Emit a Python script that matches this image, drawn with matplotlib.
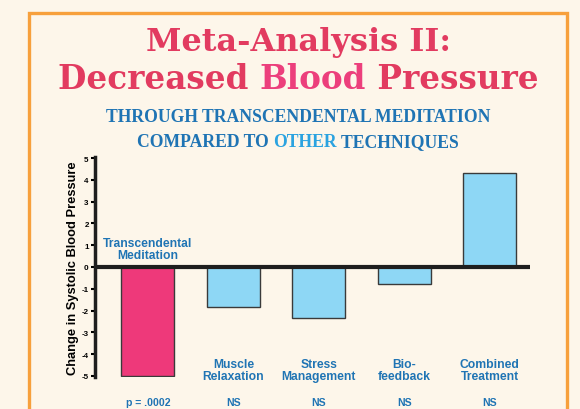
import matplotlib.pyplot as plt
from matplotlib.patches import Rectangle

techniques = ["Transcendental\nMeditation", "Muscle\nRelaxation", "Stress\nManagement",
              "Bio-\nfeedback", "Combined\nTreatment"]
changes = [-5.0, -1.84, -2.33, -0.78, 4.32]
p_values = ["p = .0002", "NS", "NS", "NS", "NS"]
yticks = list(range(-5, 6))

BG = "#FDF6EA"
RED = "#E23B60"
PINK = "#EC3F7C"
BLUE = "#1F74B4"
LIGHTBLUE = "#2BA3E0"
BAR_LIGHT = "#8ED7F5"
BAR_TM = "#EE397A"

W, H = 580, 410
fig = plt.figure(figsize=(5.8, 4.1), dpi=100, facecolor=BG)

# orange frame (runs off the bottom)
fig.patches.append(Rectangle((29 / W, -0.05), (567 - 29) / W, 1.05 - 14 / H,
                             transform=fig.transFigure, fill=False,
                             edgecolor="#F7A03C", linewidth=2.4))


def colored_line(pieces, y, size, family, weight="bold"):
    """draw a line of text made of differently coloured pieces, centred"""
    r = fig.canvas.get_renderer()
    texts = []
    for s, c in pieces:
        t = fig.text(0, y, s, color=c, fontsize=size, family=family,
                     weight=weight, va="center", ha="left")
        texts.append(t)
    widths = [t.get_window_extent(r).width / W for t in texts]
    x = 0.514 - sum(widths) / 2
    for t, w in zip(texts, widths):
        t.set_x(x)
        x += w


serif = "DejaVu Serif"
colored_line([("Meta-Analysis II:", RED)], 1 - 43 / H, 23, serif)
colored_line([("Decreased ", RED), ("Blood", PINK), (" Pressure", RED)],
             1 - 80 / H, 23.5, serif)
colored_line([("THROUGH TRANSCENDENTAL MEDITATION", BLUE)], 1 - 118 / H, 12.7, "Liberation Serif")
colored_line([("COMPARED TO ", BLUE), ("OTHER", LIGHTBLUE), (" TECHNIQUES", BLUE)],
             1 - 143 / H, 12.7, "Liberation Serif")

ax = fig.add_axes([95 / W, 1 - 378 / H, (530 - 95) / W, (378 - 158) / H])
ax.set_facecolor("none")
x = list(range(len(changes)))
colors = [BAR_TM] + [BAR_LIGHT] * 4
ax.bar(x, changes, width=0.62, color=colors, edgecolor="#3a3a3a", linewidth=1, zorder=2)
ax.axhline(0, color="#1e1e1e", linewidth=3, zorder=3)

ax.set_xlim(-0.62, 4.47)
ax.set_ylim(-5.05, 5.05)
ax.set_yticks(yticks)
ax.set_yticklabels([str(v) for v in yticks], fontsize=5.8, weight="bold",
                   family="Liberation Sans")
ax.set_xticks([])
for s in ["top", "right", "bottom"]:
    ax.spines[s].set_visible(False)
ax.spines["left"].set_linewidth(2.5)
ax.spines["left"].set_color("#1e1e1e")
ax.tick_params(axis="y", length=3, width=1.5, pad=1.5)
ax.set_ylabel("Change in Systolic Blood Pressure", fontsize=9.3, weight="bold",
              family="Liberation Sans", labelpad=2)

for i, (lab, p) in enumerate(zip(techniques, p_values)):
    ly = 0.83 if i == 0 else -4.75
    ax.text(i, ly, lab, ha="center", va="center", color=BLUE, fontsize=8.7,
            weight="bold", family="Liberation Sans", linespacing=1.0, clip_on=False)
    ax.text(i, -6.2, p, ha="center", va="center", color=BLUE, fontsize=7.6,
            weight="bold", family="Liberation Sans", clip_on=False)

fig.savefig("out.png", dpi=100, facecolor=BG)
